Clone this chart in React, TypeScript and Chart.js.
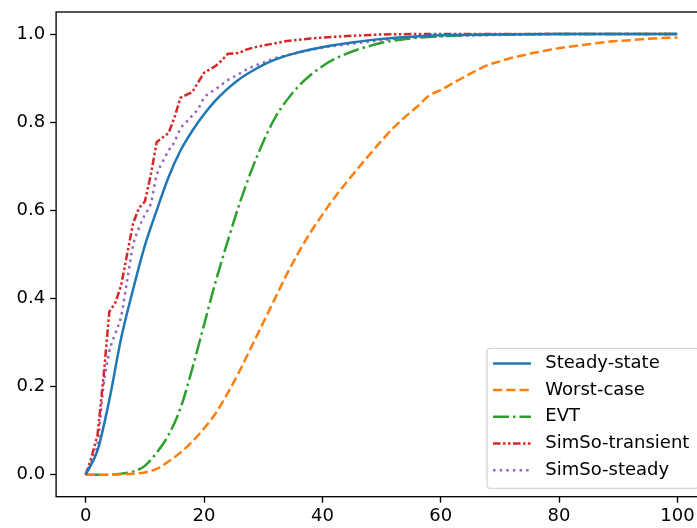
import React, { useEffect, useRef } from "react";
import { Chart, registerables } from "chart.js";
Chart.register(...registerables);

const FONT_FAMILY = "'DejaVu Sans', sans-serif";
const FS = 18;

const seriesLabels = ["Steady-state", "Worst-case", "EVT", "SimSo-transient", "SimSo-steady"];
const xTickValues = [0, 20, 40, 60, 80, 100];
const yTickValues = [0, 0.2, 0.4, 0.6, 0.8, 1.0];

const steadyX = [0, 2, 4, 6, 8, 10, 12, 14, 16, 18, 20, 22, 24, 26, 28, 30, 32, 35, 38, 41, 45, 50, 55, 60, 70, 80, 90, 100];
const steadyY = [0, 0.055, 0.17, 0.31, 0.42, 0.52, 0.6, 0.675, 0.735, 0.78, 0.818, 0.85, 0.876, 0.898, 0.915, 0.93, 0.942, 0.955, 0.965, 0.973, 0.981, 0.989, 0.994, 0.997, 0.999, 1, 1, 1];

const worstX = [0, 4, 6, 8, 10, 12, 14, 16, 18, 20, 22, 24, 26, 28, 30, 32, 34, 36, 38, 40, 42, 44, 46, 48, 50, 52, 54, 56, 58, 60, 62, 64, 66, 68, 70, 72, 74, 76, 78, 80, 84, 88, 92, 96, 100];
const worstY = [0, 0, 0.001, 0.002, 0.005, 0.013, 0.03, 0.05, 0.075, 0.105, 0.14, 0.185, 0.235, 0.29, 0.345, 0.4, 0.455, 0.505, 0.55, 0.59, 0.628, 0.662, 0.695, 0.727, 0.758, 0.787, 0.812, 0.835, 0.86, 0.873, 0.888, 0.903, 0.917, 0.93, 0.938, 0.946, 0.952, 0.958, 0.963, 0.968, 0.975, 0.982, 0.986, 0.99, 0.992];

const evtX = [0, 2, 4, 6, 8, 10, 12, 14, 16, 18, 20, 22, 24, 26, 28, 30, 32, 34, 36, 38, 40, 42, 44, 46, 48, 50, 55, 60, 70, 80, 100];
const evtY = [0, 0, 0, 0.002, 0.007, 0.02, 0.05, 0.09, 0.15, 0.24, 0.34, 0.44, 0.53, 0.615, 0.69, 0.755, 0.81, 0.85, 0.882, 0.907, 0.927, 0.943, 0.955, 0.965, 0.973, 0.98, 0.99, 0.995, 0.999, 1, 1];

const transientX = [0, 1, 2, 3, 4, 5, 6, 7, 8, 9, 10, 11, 12, 13, 14, 15, 16, 17, 18, 19, 20, 21, 22, 23, 24, 25, 26, 27, 28, 29, 30, 32, 34, 36, 38, 40, 45, 50, 55, 60, 100];
const transientY = [0, 0.04, 0.09, 0.22, 0.37, 0.39, 0.43, 0.5, 0.57, 0.605, 0.62, 0.68, 0.755, 0.765, 0.775, 0.81, 0.855, 0.862, 0.868, 0.89, 0.912, 0.92, 0.928, 0.94, 0.955, 0.956, 0.957, 0.964, 0.968, 0.971, 0.974, 0.979, 0.984, 0.987, 0.99, 0.992, 0.996, 0.999, 1, 1, 1];

const simSteadyX = [0, 1, 2, 3, 4, 5, 6, 7, 8, 9, 10, 11, 12, 13, 14, 15, 16, 17, 18, 19, 20, 22, 24, 26, 28, 30, 32, 35, 38, 40, 45, 50, 55, 60, 70, 80, 100];
const simSteadyY = [0, 0.03, 0.07, 0.2, 0.28, 0.32, 0.36, 0.44, 0.52, 0.56, 0.59, 0.615, 0.68, 0.71, 0.735, 0.755, 0.785, 0.8, 0.815, 0.83, 0.855, 0.875, 0.895, 0.91, 0.925, 0.935, 0.945, 0.955, 0.964, 0.969, 0.978, 0.986, 0.992, 0.995, 0.998, 1, 1];

const LW = 2.5;
const seriesDefs = [
  { x: steadyX, y: steadyY, color: "#1f77b4", dash: [] as number[], smooth: true },
  { x: worstX, y: worstY, color: "#ff7f0e", dash: [3.7 * LW, 1.6 * LW], smooth: true },
  { x: evtX, y: evtY, color: "#2ca02c", dash: [6.4 * LW, 1.6 * LW, 1 * LW, 1.6 * LW], smooth: true },
  { x: transientX, y: transientY, color: "#d62728", dash: [3 * LW, 1 * LW, 1 * LW, 1 * LW, 1 * LW, 1 * LW], smooth: false },
  { x: simSteadyX, y: simSteadyY, color: "#9467bd", dash: [1 * LW, 1.65 * LW], smooth: true },
];

const framePlugin = {
  id: "frame",
  afterDatasetsDraw(chart: any) {
    const { ctx, chartArea: ca } = chart;
    ctx.save();
    ctx.strokeStyle = "#000";
    ctx.lineWidth = 1.33;
    ctx.strokeRect(ca.left, ca.top, ca.right - ca.left, ca.bottom - ca.top);
    ctx.restore();
  },
};

const legendPlugin = {
  id: "mplLegend",
  afterDraw(chart: any) {
    const { ctx, chartArea: ca } = chart;
    const pad = 8.3;
    const w = 211.7;
    const h = 140;
    const r = ca.right - pad;
    const b = ca.bottom - pad;
    const l = r - w;
    const t = b - h;
    ctx.save();
    ctx.beginPath();
    (ctx as any).roundRect(l, t, w, h, 3.3);
    ctx.fillStyle = "rgba(255,255,255,0.8)";
    ctx.fill();
    ctx.strokeStyle = "rgba(204,204,204,0.8)";
    ctx.lineWidth = 1.33;
    ctx.stroke();
    chart.data.datasets.forEach((ds: any, i: number) => {
      const cy = t + 15 + i * 26.7;
      ctx.beginPath();
      ctx.setLineDash(ds.borderDash || []);
      ctx.lineDashOffset = 0;
      ctx.strokeStyle = ds.borderColor;
      ctx.lineWidth = LW;
      ctx.lineCap = "butt";
      ctx.moveTo(l + 6, cy);
      ctx.lineTo(l + 44, cy);
      ctx.stroke();
      ctx.setLineDash([]);
      ctx.fillStyle = "#000";
      ctx.font = `${FS}px ${FONT_FAMILY}`;
      ctx.textAlign = "left";
      ctx.textBaseline = "middle";
      ctx.fillText(ds.label, l + 58.3, cy);
    });
    ctx.restore();
  },
};

export default function App() {
  const ref = useRef<HTMLCanvasElement>(null);
  useEffect(() => {
    document.body.style.margin = "0";
    document.body.style.overflow = "hidden";
    const font = { family: FONT_FAMILY, size: FS };
    const chart = new Chart(ref.current as HTMLCanvasElement, {
      type: "line",
      data: {
        datasets: seriesDefs.map((s, i) => ({
          label: seriesLabels[i],
          data: s.x.map((x, j) => ({ x, y: s.y[j] })),
          borderColor: s.color,
          backgroundColor: s.color,
          borderWidth: LW,
          borderDash: s.dash,
          borderCapStyle: "butt",
          borderJoinStyle: "round",
          pointRadius: 0,
          fill: false,
          tension: 0,
          cubicInterpolationMode: s.smooth ? "monotone" : "default",
        })),
      } as any,
      options: {
        responsive: false,
        animation: false,
        devicePixelRatio: 1,
        events: [],
        layout: { padding: { top: 12, right: 0, left: 0, bottom: 0 } },
        plugins: { legend: { display: false }, tooltip: { enabled: false } },
        scales: {
          x: {
            type: "linear",
            min: -5,
            max: 105,
            afterBuildTicks: (s: any) => {
              s.ticks = xTickValues.map((v) => ({ value: v }));
            },
            ticks: { font, color: "#000", padding: 3, maxRotation: 0, autoSkip: false, callback: (v: any) => String(v) },
            grid: { drawOnChartArea: false, drawTicks: true, tickLength: 6, tickColor: "#000", tickWidth: 1.33 },
            border: { display: false },
            afterFit: (s: any) => {
              s.height = 31.3;
              s.paddingLeft = 0;
              s.paddingRight = 0;
            },
          },
          y: {
            type: "linear",
            min: -0.05,
            max: 1.05,
            afterBuildTicks: (s: any) => {
              s.ticks = yTickValues.map((v) => ({ value: v }));
            },
            ticks: { font, color: "#000", padding: 5, autoSkip: false, callback: (v: any) => Number(v).toFixed(1) },
            grid: { drawOnChartArea: false, drawTicks: true, tickLength: 6, tickColor: "#000", tickWidth: 1.33 },
            border: { display: false },
            afterFit: (s: any) => {
              s.width = 56.1;
              s.paddingTop = 0;
              s.paddingBottom = 0;
            },
          },
        },
      } as any,
      plugins: [framePlugin, legendPlugin],
    });
    return () => chart.destroy();
  }, []);
  return (
    <div style={{ width: 707, height: 528, overflow: "hidden" }}>
      <canvas ref={ref} width={707} height={528} style={{ display: "block" }} />
    </div>
  );
}
